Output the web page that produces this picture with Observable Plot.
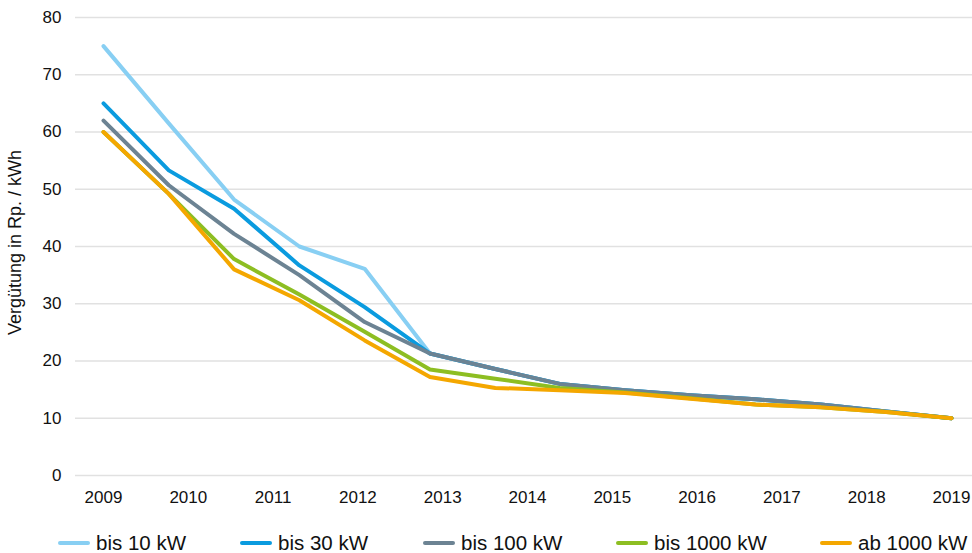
<!DOCTYPE html>
<html>
<head>
<meta charset="utf-8">
<script src="https://cdn.jsdelivr.net/npm/d3@7"></script>
<script src="https://cdn.jsdelivr.net/npm/@observablehq/plot@0.6"></script>
<style>
  html, body { margin: 0; padding: 0; background: #fff; }
  body { width: 972px; height: 553px; overflow: hidden; font-family: "Liberation Sans", Arial, Helvetica, sans-serif; }
  #legend { position: absolute; left: 0; top: 530px; width: 972px; height: 26px; display: flex; align-items: center; font-size: 20.5px; color: #111; }
  .item { position: absolute; display: flex; align-items: center; white-space: nowrap; }
  .sw { width: 32px; height: 4px; border-radius: 2px; margin-right: 6px; }
</style>
</head>
<body>
<div id="chart"></div>
<div id="legend"></div>
<script>
// Observation dates (14 points between 2009 and 2019)
const dates = [2009, 2009.77, 2010.54, 2011.31, 2012.08, 2012.85, 2013.62, 2014.38, 2015.15, 2015.92, 2016.69, 2017.46, 2018.23, 2019];
const seriesNames = ["bis 10 kW", "bis 30 kW", "bis 100 kW", "bis 1000 kW", "ab 1000 kW"];
const seriesColors = ["#88CFF3", "#0A9BDF", "#6C8393", "#8DBE22", "#F4A700"];
const bis10   = [75, 61.5, 48.2, 40.0, 36.1, 21.3, 18.6, 16.0, 14.9, 14.0, 13.3, 12.4, 11.2, 10];
const bis30   = [65, 53.3, 46.6, 36.7, 29.4, 21.3, 18.6, 16.0, 14.9, 14.0, 13.3, 12.4, 11.2, 10];
const bis100  = [62, 50.7, 42.2, 35.0, 26.8, 21.3, 18.6, 16.0, 14.9, 14.0, 13.3, 12.4, 11.2, 10];
const bis1000 = [60, 49.2, 37.8, 31.6, 25.1, 18.5, 16.9, 15.3, 14.5, 13.5, 12.4, 11.9, 11.1, 10];
const ab1000  = [60, 49.2, 36.0, 30.6, 23.6, 17.2, 15.3, 14.9, 14.4, 13.4, 12.4, 11.9, 11.1, 10];
const yTicks = [0, 10, 20, 30, 40, 50, 60, 70, 80];
const xTicks = [2009, 2010, 2011, 2012, 2013, 2014, 2015, 2016, 2017, 2018, 2019];
const yTitle = "Vergütung in Rp. / kWh";

const allSeries = [bis10, bis30, bis100, bis1000, ab1000];
const rows = [];
allSeries.forEach((vals, si) => vals.forEach((v, i) => rows.push({series: seriesNames[si], date: dates[i], value: v})));

const font = '"Liberation Sans", Arial, Helvetica, sans-serif';
const chart = Plot.plot({
  width: 972,
  height: 530,
  marginLeft: 75,
  marginRight: 0,
  marginTop: 17,
  marginBottom: 55,
  style: {fontFamily: font, fontSize: "17px", color: "#111", background: "#fff"},
  x: {domain: [2009, 2019], insetLeft: 28, insetRight: 21, ticks: xTicks, tickFormat: d => String(d), tickSize: 0, tickPadding: 15, label: null},
  y: {domain: [0, 80], ticks: yTicks, tickSize: 0, tickPadding: 14, label: null},
  color: {domain: seriesNames, range: seriesColors},
  marks: [
    Plot.ruleY(yTicks, {stroke: "#e1e1e1", strokeWidth: 1.5}),
    Plot.line(rows, {x: "date", y: "value", z: "series", stroke: "series", strokeWidth: 4, strokeLinejoin: "round", strokeLinecap: "round"}),
    Plot.text([yTitle], {frameAnchor: "left", y: () => 40.7, rotate: -90, textAnchor: "middle", dx: -60, fontSize: 18, fill: "#111"})
  ]
});
document.getElementById("chart").appendChild(chart);

const legendLefts = [58, 240, 423, 616, 820];
const legend = document.getElementById("legend");
seriesNames.forEach((name, i) => {
  const it = document.createElement("div");
  it.className = "item";
  it.style.left = legendLefts[i] + "px";
  const sw = document.createElement("span");
  sw.className = "sw";
  sw.style.background = seriesColors[i];
  const tx = document.createElement("span");
  tx.textContent = name;
  it.appendChild(sw); it.appendChild(tx);
  legend.appendChild(it);
});
</script>
</body>
</html>
